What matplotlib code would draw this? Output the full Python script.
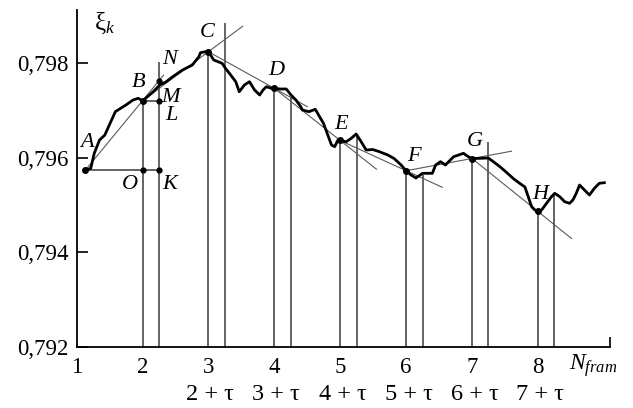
"""Frame-by-frame extrapolation sketch: xi_k vs frame number with chords A..H."""

import numpy as np
import matplotlib

matplotlib.use("Agg")
import matplotlib.pyplot as plt
from matplotlib.ticker import FuncFormatter

plt.rcParams["font.family"] = "Liberation Serif"
plt.rcParams["mathtext.fontset"] = "custom"
plt.rcParams["mathtext.rm"] = "Liberation Serif"
plt.rcParams["mathtext.it"] = "Liberation Serif:italic"

# measured curve xi_k(N_fram)
frame_x = [
    1.135, 1.215, 1.268, 1.348, 1.428, 1.508, 1.588, 1.668, 1.748, 1.856, 1.936,
    2.0, 2.064, 2.163, 2.262, 2.360, 2.459, 2.607, 2.756, 2.855, 2.879, 2.953,
    3.0, 3.081, 3.208, 3.259, 3.338, 3.415, 3.468, 3.546, 3.623, 3.701, 3.778,
    3.829, 3.880, 3.958, 4.0, 4.084, 4.181, 4.254, 4.328, 4.401, 4.426, 4.525,
    4.622, 4.746, 4.868, 4.916, 4.966, 5.0, 5.091, 5.167, 5.242, 5.318, 5.394,
    5.495, 5.595, 5.723, 5.818, 5.924, 6.0, 6.075, 6.149, 6.249, 6.398, 6.448,
    6.522, 6.597, 6.646, 6.721, 6.796, 6.870, 6.945, 7.0, 7.121, 7.247, 7.323,
    7.424, 7.526, 7.626, 7.727, 7.803, 7.853, 7.905, 7.955, 8.0, 8.056, 8.131,
    8.206, 8.256, 8.331, 8.406, 8.481, 8.531, 8.582, 8.632, 8.707, 8.782, 8.857,
    8.932, 9.008,
]
xi = [
    0.795742, 0.795778, 0.796095, 0.796376, 0.796482, 0.796729, 0.796975,
    0.797046, 0.797116, 0.797222, 0.797258, 0.797207, 0.797279, 0.797397,
    0.797539, 0.797609, 0.797715, 0.797856, 0.797962, 0.798137, 0.798222,
    0.798243, 0.798243, 0.798068, 0.797998, 0.797892, 0.797751, 0.797609,
    0.797397, 0.797539, 0.797609, 0.797433, 0.797328, 0.797433, 0.797503,
    0.797469, 0.797469, 0.797455, 0.797455, 0.797328, 0.797222, 0.797080,
    0.797011, 0.796975, 0.797025, 0.796729, 0.796271, 0.796235, 0.796376,
    0.796366, 0.796340, 0.796412, 0.796503, 0.796340, 0.796165, 0.796175,
    0.796129, 0.796059, 0.795985, 0.795848, 0.795727, 0.795636, 0.795573,
    0.795672, 0.795672, 0.795848, 0.795918, 0.795848, 0.795918, 0.796023,
    0.796059, 0.796095, 0.796023, 0.795985, 0.795989, 0.795996, 0.795918,
    0.795812, 0.795689, 0.795562, 0.795457, 0.795383, 0.795178, 0.794966,
    0.794896, 0.794865, 0.794896, 0.795038, 0.795178, 0.795249, 0.795178,
    0.795072, 0.795038, 0.795108, 0.795249, 0.795425, 0.795319, 0.795214,
    0.795355, 0.795461, 0.795474,
]

# labelled points on the curve
pt_names = ["A", "B", "C", "D", "E", "F", "G", "H"]
pt_x = [1.135, 2, 3, 4, 5, 6, 7, 8]
pt_y = [0.795742, 0.797207, 0.798243, 0.797469, 0.796366, 0.795727, 0.795985, 0.794865]

tau = 0.25
frames = [2, 3, 4, 5, 6, 7, 8]
tau_tops = [0.798032, 0.798844, 0.797280, 0.796482, 0.795636, 0.796340, 0.795249]
chord_end = [2.32, 3.52, 4.5, 5.55, 6.55, 7.6, 8.51]

ytick_vals = [0.792, 0.794, 0.796, 0.798]
xtick_vals = [1, 2, 3, 4, 5, 6, 7, 8]
tau_labels = ["2 + τ", "3 + τ", "4 + τ", "5 + τ", "6 + τ", "7 + τ"]
tau_label_x = [3.02, 4.03, 5.04, 6.05, 7.04, 8.03]

# label offsets in pixels relative to the points
pt_offsets = [(2, 28), (-4, 18), (-1, 19), (2, 18), (1, 16), (8, 14), (3, 17), (2, 17)]

fig = plt.figure(figsize=(6.33, 4.08), dpi=100)
ax = fig.add_axes([76.6 / 633, 61 / 408, 533.4 / 633, 337 / 408])
ax.set_xlim(1, 9.094)
ax.set_ylim(0.792, 0.799125)

line_c = "#3a3a3a"
thin_c = "#5a5a5a"

# vertical lines at k and k + tau
ax.vlines(frames, 0.792, pt_y[1:], color=line_c, lw=1.1)
ax.vlines([k + tau for k in frames], 0.792, tau_tops, color=line_c, lw=1.1)

# extended chords between neighbouring labelled points
for i in range(len(pt_x) - 1):
    x0, y0, x1, y1 = pt_x[i], pt_y[i], pt_x[i + 1], pt_y[i + 1]
    xe = chord_end[i]
    ye = y0 + (y1 - y0) / (x1 - x0) * (xe - x0)
    ax.plot([x0, xe], [y0, ye], color=thin_c, lw=0.8)

# construction at B
xA, yA, xB, yB = pt_x[0], pt_y[0], pt_x[1], pt_y[1]
xK = 2 + tau
yN = yA + (yB - yA) / (xB - xA) * (xK - xA)
ax.hlines(yA, xA, xK, color=line_c, lw=1.1)
ax.hlines(yB, xB, xK, color=line_c, lw=1.1)

ax.plot(frame_x, xi, color="black", lw=2.0, solid_joinstyle="round")

ax.plot(pt_x, pt_y, "o", color="black", ms=4)
aux_x = [2, xK, xK, xK]
aux_y = [yA, yA, yB, yN]
ax.plot(aux_x, aux_y, "o", color="black", ms=3.5)

fs = 16
for name, x, y, (dx, dy) in zip(pt_names, pt_x, pt_y, pt_offsets):
    ax.annotate(name, (x, y), xytext=(dx, dy), textcoords="offset pixels",
                ha="center", va="center", fontsize=fs, style="italic")
for name, x, y, (dx, dy) in [("O", 2, yA, (-13, -14)), ("K", xK, yA, (11, -14)),
                             ("L", xK, yB, (12, -15)), ("M", xK, yB, (12, 3)),
                             ("N", xK, yN, (11, 21))]:
    ax.annotate(name, (x, y), xytext=(dx, dy), textcoords="offset pixels",
                ha="center", va="center", fontsize=fs, style="italic")

# axes styling
for side in ("top", "right"):
    ax.spines[side].set_visible(False)
for side in ("left", "bottom"):
    ax.spines[side].set_linewidth(1.3)
ax.set_yticks(ytick_vals)
ax.yaxis.set_major_formatter(FuncFormatter(lambda v, _: f"{v:.3f}".replace(".", ",")))
ax.tick_params(axis="y", direction="in", length=8, width=1.2, labelsize=16.5, pad=6)
ax.set_xticks(xtick_vals)
ax.set_xticklabels([str(v) for v in xtick_vals])
ax.tick_params(axis="x", length=0, labelsize=16.5, pad=7)
ax.set_xticks([ax.get_xlim()[1]], minor=True)
ax.tick_params(axis="x", which="minor", direction="in", length=7, width=1.2)

xt = ax.get_xaxis_transform()
for lab, x in zip(tau_labels, tau_label_x):
    ax.text(x, -0.142, lab, transform=xt, ha="center", va="center", fontsize=17.5)
ax.text(8.47, -0.055, r"$N_{fram}$", transform=xt, ha="left", va="center", fontsize=17)
ax.text(1.42, 0.79884, r"$\mathregular{ξ}_k$", ha="center", va="center", fontsize=18)

fig.savefig("out.png", dpi=100)
